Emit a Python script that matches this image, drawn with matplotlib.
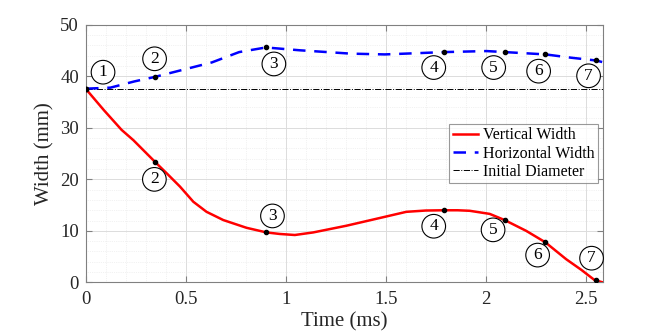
import numpy as np
import matplotlib.pyplot as plt
from matplotlib.ticker import MultipleLocator

plt.rcParams['font.family'] = ['Liberation Serif', 'DejaVu Serif']

# vertical width curve
vert_t = [0.0, 0.09, 0.178, 0.237, 0.345, 0.403, 0.47, 0.537, 0.603, 0.687, 0.803,
          0.903, 0.97, 1.045, 1.137, 1.303, 1.47, 1.603, 1.70, 1.787, 1.86, 1.92,
          2.02, 2.095, 2.203, 2.298, 2.403, 2.48, 2.545, 2.587]
vert_w = [37.5, 33.4, 29.6, 27.6, 23.4, 21.2, 18.6, 15.65, 13.7, 12.1, 10.6,
          9.7, 9.4, 9.2, 9.7, 11.0, 12.5, 13.7, 13.95, 14.0, 14.0, 13.9,
          13.3, 12.1, 10.0, 7.8, 4.5, 2.4, 0.45, 0.0]

# horizontal width curve
horz_t = [0.0, 0.122, 0.241, 0.346, 0.478, 0.63, 0.766, 0.9, 1.07, 1.325, 1.495,
          1.664, 1.79, 2.003, 2.097, 2.30, 2.43, 2.553, 2.59]
horz_w = [37.6, 37.8, 39.0, 39.9, 41.2, 42.7, 44.7, 45.6, 45.05, 44.4, 44.25,
          44.5, 44.7, 44.9, 44.7, 44.25, 43.6, 43.07, 42.7]

init_diam = 37.5

# marked instants
mark_t = [0.0, 0.345, 0.903, 1.79, 2.097, 2.298, 2.55]
mark_v = [37.5, 23.4, 9.7, 14.0, 12.1, 7.8, 0.4]
mark_h = [37.6, 39.9, 45.6, 44.7, 44.7, 44.25, 43.15]

# label positions for circled numbers
lab_h_t = [0.085, 0.343, 0.94, 1.74, 2.04, 2.265, 2.515]
lab_h_w = [40.8, 43.4, 42.4, 41.7, 41.7, 41.0, 40.1]
lab_v_t = [0.342, 0.933, 1.74, 2.037, 2.26, 2.53]
lab_v_w = [20.0, 12.9, 10.9, 10.2, 5.3, 4.7]
lab_h_txt = ['1', '2', '3', '4', '5', '6', '7']
lab_v_txt = ['2', '3', '4', '5', '6', '7']

fig = plt.figure(figsize=(6.67, 3.35), dpi=100)
ax = fig.add_axes([0.129, 0.157, 0.775, 0.769])

ax.plot(vert_t, vert_w, color='red', lw=1.8, label='Vertical Width', zorder=3)
ax.plot(horz_t, horz_w, color='blue', lw=1.8, ls=(0, (5, 3.5)),
        label='Horizontal Width', zorder=3)
ax.axhline(init_diam, color='black', lw=0.7, ls='-.', label='Initial Diameter', zorder=2)

ax.plot(mark_t, mark_v, 'o', color='black', ms=3, zorder=4)
ax.plot(mark_t, mark_h, 'o', color='black', ms=3, zorder=4)

circ = dict(boxstyle='circle,pad=0.22', fc='white', ec='black', lw=0.8)
for t, w, s in zip(lab_h_t, lab_h_w, lab_h_txt):
    ax.text(t, w, s, ha='center', va='center', fontsize=12.5, bbox=circ, zorder=5)
for t, w, s in zip(lab_v_t, lab_v_w, lab_v_txt):
    ax.text(t, w, s, ha='center', va='center', fontsize=12.5, bbox=circ, zorder=5)

ax.set_xlim(0, 2.587)
ax.set_ylim(0, 50)
ax.xaxis.set_minor_locator(MultipleLocator(0.1))
ax.yaxis.set_major_locator(MultipleLocator(10))
ax.yaxis.set_minor_locator(MultipleLocator(2))
ax.set_xticks([0, 0.5, 1, 1.5, 2, 2.5])
ax.set_xticklabels(['0', '0.5', '1', '1.5', '2', '2.5'])

ax.grid(which='major', color='#dcdcdc', lw=0.7)
ax.grid(which='minor', color='#e6e6e6', lw=0.5, ls=':')
ax.set_axisbelow(True)

for sp in ax.spines.values():
    sp.set_color('#808080')
    sp.set_linewidth(0.8)
ax.tick_params(which='both', direction='in', top=True, right=True,
               colors='#808080', labelcolor='#262626', labelsize=13.5)
ax.tick_params(which='minor', length=0)
ax.tick_params(which='major', length=4)
ax.tick_params(axis='x', pad=6)
ax.tick_params(axis='y', pad=5)

ax.set_xlabel('Time (ms)', fontsize=15, color='#262626', labelpad=3)
ax.set_ylabel('Width (mm)', fontsize=15, color='#262626', labelpad=4)

leg = ax.legend(loc='upper right', bbox_to_anchor=(0.99, 0.615), fontsize=11.5,
                frameon=True, fancybox=False, handlelength=1.6, handletextpad=0.3,
                borderpad=0.2, labelspacing=0.15, borderaxespad=0)
leg.get_frame().set_edgecolor('#808080')
leg.get_frame().set_linewidth(0.8)

fig.savefig('out.png', dpi=100)
